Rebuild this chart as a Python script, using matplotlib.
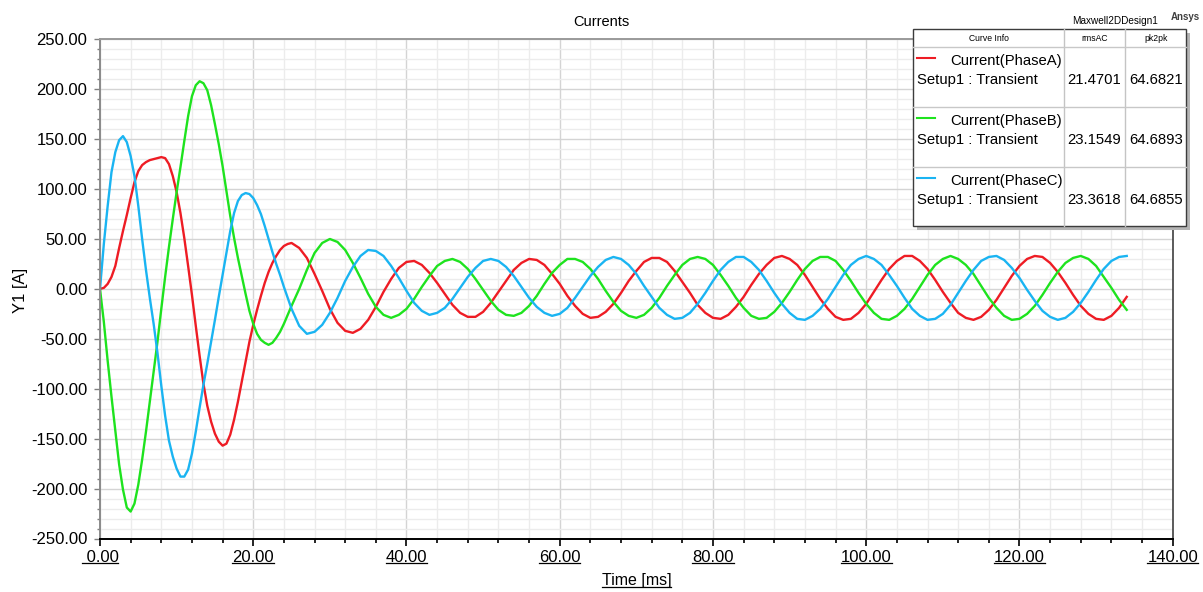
import numpy as np
import matplotlib
matplotlib.use('Agg')
import matplotlib.pyplot as plt
from matplotlib.ticker import MultipleLocator, FormatStrFormatter
from matplotlib.patches import Rectangle
from matplotlib.lines import Line2D
from matplotlib.transforms import IdentityTransform

plt.rcParams['font.family'] = ['Liberation Sans', 'DejaVu Sans']

# sample times [ms]: 0.5 ms steps through the start-up, 1 ms afterwards
t_ms = np.concatenate([np.arange(0, 25, 0.5), np.arange(25, 135, 1.0)])

# Current(PhaseA) [A]
phase_a = [
    0, 1, 5, 12, 23, 41, 58, 74, 91, 107,
    118, 124, 127, 129, 130, 131, 132, 131, 125, 113,
    97, 76, 51, 23, -6, -37, -67, -95, -117, -133,
    -145, -153, -157, -155, -146, -131, -113, -93, -73, -53,
    -36, -21, -7, 6, 17, 26, 33, 39, 43, 45,
    46, 41, 31, 15, -2, -20, -34, -42, -44, -40,
    -31, -18, -3, 10, 21, 27, 28, 24, 16, 6,
    -5, -16, -24, -28, -28, -23, -14, -3, 8, 19,
    26, 30, 29, 24, 15, 5, -7, -17, -25, -29,
    -28, -23, -15, -4, 8, 18, 27, 31, 31, 27,
    18, 7, -4, -16, -24, -29, -30, -26, -18, -8,
    4, 15, 24, 31, 33, 30, 24, 14, 2, -10,
    -20, -28, -31, -30, -24, -15, -3, 9, 20, 28,
    33, 33, 28, 20, 9, -3, -14, -24, -29, -31,
    -28, -21, -11, 1, 13, 23, 30, 33, 32, 26,
    17, 6, -6, -17, -25, -30, -31, -27, -19, -8,
]

# Current(PhaseB) [A]
phase_b = [
    0, -33, -72, -108, -142, -176, -201, -219, -223, -215,
    -196, -171, -143, -113, -83, -53, -20, 12, 42, 70,
    97, 122, 148, 173, 193, 204, 208, 206, 199, 184,
    165, 145, 123, 98, 73, 51, 31, 13, -5, -22,
    -35, -45, -51, -54, -56, -54, -49, -43, -35, -26,
    -17, 0, 19, 36, 46, 50, 47, 39, 26, 11,
    -5, -18, -26, -29, -26, -20, -10, 2, 13, 23,
    28, 30, 27, 20, 10, -1, -12, -21, -26, -27,
    -24, -17, -7, 5, 16, 24, 30, 30, 27, 20,
    10, -2, -13, -22, -27, -29, -26, -19, -9, 3,
    14, 24, 30, 32, 30, 24, 14, 3, -9, -19,
    -27, -30, -29, -23, -14, -3, 9, 20, 28, 32,
    32, 28, 19, 8, -4, -15, -24, -30, -31, -27,
    -20, -10, 2, 14, 24, 30, 33, 30, 24, 15,
    3, -9, -19, -27, -31, -30, -25, -17, -6, 6,
    17, 26, 31, 33, 30, 23, 12, 1, -11, -21,
]

# Current(PhaseC) [A]
phase_c = [
    0, 45, 83, 117, 137, 149, 153, 147, 133, 113,
    83, 50, 19, -9, -35, -64, -97, -127, -152, -168,
    -180, -188, -188, -181, -165, -143, -119, -96, -75, -53,
    -31, -8, 14, 36, 58, 76, 88, 94, 96, 95,
    91, 84, 75, 63, 50, 37, 25, 14, 2, -9,
    -20, -37, -45, -43, -36, -24, -9, 8, 22, 33,
    39, 38, 33, 23, 11, -2, -14, -22, -26, -24,
    -19, -10, 1, 12, 21, 28, 30, 28, 22, 13,
    2, -9, -18, -24, -27, -25, -19, -9, 2, 13,
    22, 29, 32, 30, 24, 15, 3, -8, -19, -26,
    -30, -29, -24, -15, -4, 8, 19, 27, 32, 32,
    27, 19, 8, -4, -15, -24, -30, -31, -27, -20,
    -10, 2, 14, 24, 30, 33, 30, 24, 14, 3,
    -9, -20, -27, -31, -30, -25, -16, -4, 8, 19,
    28, 32, 33, 29, 21, 11, -1, -12, -22, -28,
    -31, -29, -23, -14, -3, 9, 20, 28, 32, 33,
]

curve_names = ['Current(PhaseA)', 'Current(PhaseB)', 'Current(PhaseC)']
rms_ac = ['21.4701', '23.1549', '23.3618']
pk2pk = ['64.6821', '64.6893', '64.6855']
colors = ['#ee1c24', '#1ee31e', '#1ab4f2']

W, H = 1203, 592
fig = plt.figure(figsize=(W / 100, H / 100), dpi=100)
ax = fig.add_axes([100 / W, 1 - 538.5 / H, 1072.7 / W, 499.2 / H])

for y, c in zip([phase_a, phase_b, phase_c], colors):
    ax.plot(t_ms, y, color=c, lw=1.7, solid_joinstyle='round')

ax.set_xlim(0, 140)
ax.set_ylim(-250, 250)
ax.xaxis.set_major_locator(MultipleLocator(20))
ax.xaxis.set_minor_locator(MultipleLocator(4))
ax.yaxis.set_major_locator(MultipleLocator(50))
ax.yaxis.set_minor_locator(MultipleLocator(10))
ax.xaxis.set_major_formatter(FormatStrFormatter('%5.2f'))
ax.yaxis.set_major_formatter(FormatStrFormatter('%.2f'))

ax.set_axisbelow(True)
ax.grid(which='major', color='#d4d4d4', lw=1.0)
ax.grid(which='minor', color='#ececec', lw=1.0)

ax.spines['top'].set_color('#9a9a9a')
ax.spines['top'].set_linewidth(1.4)
ax.spines['right'].set_color('#404040')
ax.spines['right'].set_linewidth(1.2)
ax.spines['left'].set_color('#8a8a8a')
ax.spines['left'].set_linewidth(1.4)
ax.spines['bottom'].set_color('black')
ax.spines['bottom'].set_linewidth(1.4)

ax.tick_params(axis='x', which='major', length=5, width=1.2, color='black',
               labelsize=12, pad=3.5)
ax.tick_params(axis='x', which='minor', length=3, width=1.2, color='black')
ax.tick_params(axis='y', which='major', length=4.3, width=1.0, color='#808080',
               labelsize=12, pad=4.8)
ax.tick_params(axis='y', which='minor', length=2.2, width=1.0, color='#808080')

fig.text(0.5, 1 - 21.7 / H, 'Currents', ha='center', va='center', fontsize=10.5)
xlab = fig.text(636.5 / W, 1 - 581 / H, 'Time [ms]', ha='center', va='center',
                fontsize=11.5)
fig.text(20 / W, 1 - 290 / H, 'Y1 [A]', ha='center', va='center',
         rotation=90, fontsize=12)

# overlay in pixel coordinates for the curve-info table and header tags
ov = fig.add_axes([0, 0, 1, 1], zorder=5)
ov.set_xlim(0, W)
ov.set_ylim(H, 0)
ov.axis('off')
ov.patch.set_alpha(0)

ov.text(1071.7, 20.7, 'Maxwell2DDesign1', ha='left', va='center', fontsize=7.2)
ov.text(1170.7, 17, 'Ansys', ha='left', va='center', fontsize=7,
        fontweight='bold', color='#404040')

bx0, by0, bw, bh = 913.3, 29.3, 272.7, 196.7
ov.add_patch(Rectangle((bx0 + 4, by0 + 4), bw, bh, facecolor='#b4b4b4',
                       edgecolor='none'))
ov.add_patch(Rectangle((bx0, by0), bw, bh, facecolor='white',
                       edgecolor='#3c3c3c', lw=1.0))
for xc in [1064.3, 1125.3]:
    ov.plot([xc, xc], [by0, by0 + bh], color='#c4c4c4', lw=1.0)
for yr in [46.7, 106.7, 166.7]:
    ov.plot([bx0, bx0 + bw], [yr, yr], color='#c8c8c8', lw=1.0)

ov.text(989, 38.5, 'Curve Info', ha='center', va='center', fontsize=6.2)
ov.text(1095, 38.5, 'rmsAC', ha='center', va='center', fontsize=6.2)
ov.text(1156, 38.5, 'pk2pk', ha='center', va='center', fontsize=6.2)

for i, (name, rms, pp, c) in enumerate(zip(curve_names, rms_ac, pk2pk, colors)):
    r0 = 46.7 + 60 * i
    ov.plot([917, 935], [r0 + 11, r0 + 11], color=c, lw=1.5)
    ov.text(950, r0 + 14.3, name, ha='left', va='center', fontsize=10.7)
    ov.text(917, r0 + 33.3, 'Setup1 : Transient', ha='left', va='center',
            fontsize=10.7)
    ov.text(1121, r0 + 33.3, rms, ha='right', va='center', fontsize=10.7)
    ov.text(1182.7, r0 + 33.3, pp, ha='right', va='center', fontsize=10.7)

# underline the time tick labels and the time axis label
fig.canvas.draw()
for lbl in ax.get_xticklabels() + [xlab]:
    if not lbl.get_text():
        continue
    bb = lbl.get_window_extent()
    fig.add_artist(Line2D([bb.x0, bb.x1], [bb.y0 + 2, bb.y0 + 2], lw=0.9,
                          color='black', transform=IdentityTransform()))

fig.savefig('out.png', dpi=100)
